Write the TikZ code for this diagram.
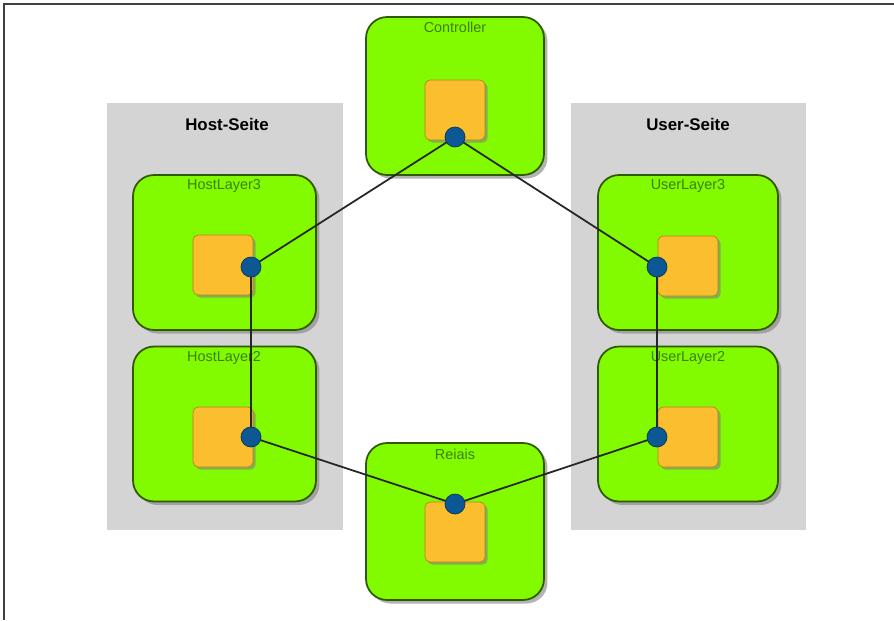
\documentclass[tikz,border=0pt]{standalone}
\usepackage{fontspec}
\setmainfont{Liberation Sans}
\usepackage{tikz}
\usetikzlibrary{shadows}

\definecolor{boxgreen}{HTML}{82FB00}
\definecolor{boxline}{HTML}{2F5A00}
\definecolor{labelgreen}{HTML}{3B7F0A}
\definecolor{portorange}{HTML}{FBBE2E}
\definecolor{dotblue}{HTML}{0C5895}
\definecolor{sidegray}{HTML}{D4D4D4}

\begin{document}
\begin{tikzpicture}[x=0.02cm,y=-0.02cm]
  \tikzset{
    side/.style={fill=sidegray, draw=none, minimum width=4.72cm, minimum height=8.54cm, inner sep=0pt},
    sidetitle/.style={font=\fontsize{9.6}{11}\selectfont\bfseries},
    module/.style={draw=boxline, line width=1pt, fill=boxgreen, rounded corners=0.42cm,
      drop shadow={shadow xshift=2pt, shadow yshift=-2pt, opacity=.6}, inner sep=0pt},
    modname/.style={anchor=north, text=labelgreen, font=\fontsize{8.2}{9}\selectfont, inner sep=0pt},
    port/.style={draw=portorange!70!black, line width=0.4pt, fill=portorange, rounded corners=0.1cm,
      minimum size=1.2cm, inner sep=0pt, drop shadow={shadow xshift=1.5pt, shadow yshift=-1.5pt, opacity=.6}},
    dot/.style={circle, fill=dotblue, draw=dotblue!60!black, minimum size=0.4cm, inner sep=0pt},
    wire/.style={draw=black!85, line width=1pt}
  }%
\useasboundingbox (0,0) rectangle (894,620);
\draw[black!75, line width=1pt] (4,620) -- (4,4) -- (894,4);
% sides
\node[side] (hostside) at (225,316.5) {};
\node[side] (userside) at (688.5,316.5) {};
\node[sidetitle] (hosttitle) at (227,124) {Host-Seite};
\node[sidetitle] (usertitle) at (688,124) {User-Seite};
% modules
\node[module, minimum width=3.56cm, minimum height=3.16cm] (ctrl) at (455,96) {};
\node[module, minimum width=3.66cm, minimum height=3.1cm] (host3) at (224.5,252.5) {};
\node[module, minimum width=3.66cm, minimum height=3.1cm] (host2) at (224.5,424) {};
\node[module, minimum width=3.6cm, minimum height=3.1cm] (user3) at (688,252.5) {};
\node[module, minimum width=3.6cm, minimum height=3.1cm] (user2) at (688,424) {};
\node[module, minimum width=3.56cm, minimum height=3.14cm] (relais) at (455,521.5) {};
\node[modname] (ctrlname) at (455,22) {Controller};
\node[modname] (host3name) at (224,179) {HostLayer3};
\node[modname] (host2name) at (224,351) {HostLayer2};
\node[modname] (user3name) at (688,179) {UserLayer3};
\node[modname] (user2name) at (688,351) {UserLayer2};
\node[modname] (relaisname) at (455,449) {Reiais};
% ports
\node[port] (ctrlport) at (455,110) {};
\node[port] (host3port) at (223,265) {};
\node[port] (host2port) at (223,437) {};
\node[port] (user3port) at (688,266) {};
\node[port] (user2port) at (688,437) {};
\node[port] (relaisport) at (455,532) {};
% wires
\coordinate (ctrlpin) at (455,137);
\coordinate (host3pin) at (251,267);
\coordinate (host2pin) at (251,437);
\coordinate (user3pin) at (657,267);
\coordinate (user2pin) at (657,437);
\coordinate (relaispin) at (455,504);
\draw[wire] (ctrlpin) -- (host3pin);
\draw[wire] (ctrlpin) -- (user3pin);
\draw[wire] (host3pin) -- (host2pin);
\draw[wire] (user3pin) -- (user2pin);
\draw[wire] (host2pin) -- (relaispin);
\draw[wire] (user2pin) -- (relaispin);
\node[dot] (ctrldot) at (ctrlpin) {};
\node[dot] (host3dot) at (host3pin) {};
\node[dot] (host2dot) at (host2pin) {};
\node[dot] (user3dot) at (user3pin) {};
\node[dot] (user2dot) at (user2pin) {};
\node[dot] (relaisdot) at (relaispin) {};
\end{tikzpicture}
\end{document}
